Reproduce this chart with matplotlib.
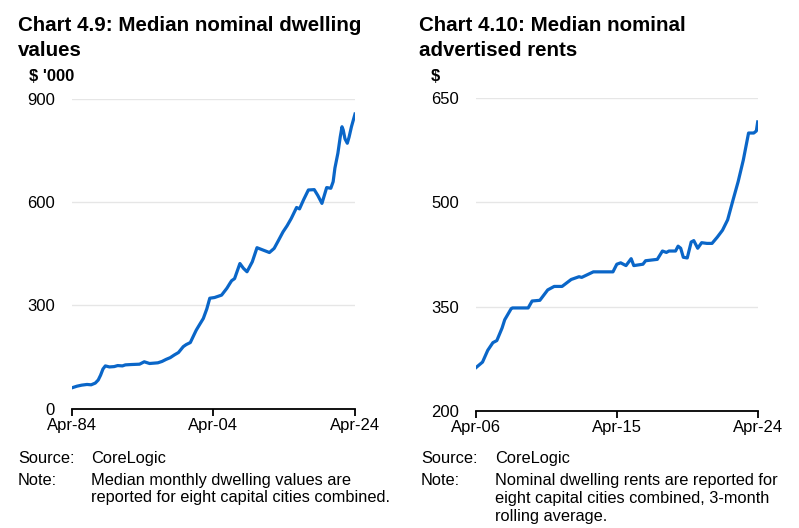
import matplotlib
matplotlib.use("Agg")
import matplotlib.pyplot as plt
import pandas as pd

plt.rcParams['font.family'] = ['Liberation Sans', 'DejaVu Sans']
plt.rcParams['font.size'] = 12

# Chart 4.9 - median nominal dwelling values ($'000)
dwell_dates = ["1984-04", "1985-01", "1985-09", "1986-06", "1987-01", "1987-08", "1988-01",
               "1988-05", "1988-09", "1989-01", "1989-08", "1990-04", "1990-10", "1991-06",
               "1991-11", "1992-09", "1993-11", "1994-07", "1995-04", "1996-06", "1997-01",
               "1997-08", "1998-03", "1998-10", "1999-05", "2000-01", "2000-06", "2001-01",
               "2001-06", "2001-11", "2002-05", "2002-11", "2003-05", "2003-10", "2004-06",
               "2005-06", "2006-03", "2006-08", "2006-11", "2007-04", "2008-01", "2008-07",
               "2009-01", "2009-10", "2010-06", "2011-03", "2012-03", "2012-11", "2013-06",
               "2014-02", "2014-09", "2015-04", "2016-01", "2016-06", "2017-01", "2017-09",
               "2018-07", "2019-01", "2019-08", "2020-04", "2020-11", "2021-03", "2021-06",
               "2021-11", "2022-03", "2022-06", "2022-08", "2022-11", "2023-03", "2023-06",
               "2023-10", "2024-04"]
dwell_values = [60, 65, 68, 70, 69, 74, 83,
                97, 115, 124, 121, 122, 125, 124,
                127, 128, 129, 136, 131, 133, 137,
                143, 148, 156, 163, 180, 186, 192,
                210, 228, 245, 262, 290, 321, 323,
                330, 350, 364, 372, 378, 422, 408,
                398, 427, 468, 462, 454, 466, 488,
                514, 532, 553, 585, 581, 608, 636,
                637, 620, 597, 643, 641, 660, 700,
                743, 790, 820, 811, 785, 772, 790,
                820, 857]

# Chart 4.10 - median nominal advertised rents ($)
rent_dates = ["2006-04", "2006-09", "2007-01", "2007-05", "2007-08", "2007-12", "2008-02",
              "2008-07", "2008-08", "2009-08", "2009-11", "2010-05", "2010-11", "2011-04",
              "2011-10", "2012-05", "2012-11", "2013-01", "2013-10", "2015-01", "2015-04",
              "2015-07", "2015-11", "2016-03", "2016-05", "2016-12", "2017-02", "2017-11",
              "2018-03", "2018-06", "2018-08", "2019-01", "2019-03", "2019-05", "2019-07",
              "2019-10", "2020-01", "2020-03", "2020-06", "2020-09", "2021-01", "2021-05",
              "2021-09", "2022-01", "2022-05", "2022-09", "2023-01", "2023-05", "2023-09",
              "2024-01", "2024-03", "2024-04"]
rent_values = [262, 270, 287, 298, 301, 319, 331,
               347, 348, 348, 358, 359, 374, 379,
               379, 389, 393, 392, 400, 400, 411,
               413, 409, 419, 409, 411, 416, 418,
               430, 428, 430, 430, 437, 434, 421,
               420, 443, 445, 434, 442, 441, 441,
               450, 460, 475, 503, 530, 561, 600,
               600, 603, 616]

line_col = "#0a66c8"
grid_col = "#e6e6e6"


def style_axes(ax, x0, x1, xticks, xlabels, y0, y1, yticks):
    ax.set_xlim(pd.Timestamp(x0), pd.Timestamp(x1))
    ax.set_ylim(y0, y1)
    ax.set_xticks([pd.Timestamp(t) for t in xticks])
    ax.set_xticklabels(xlabels)
    ax.set_yticks(yticks)
    for s in ["top", "right", "left"]:
        ax.spines[s].set_visible(False)
    ax.spines["bottom"].set_linewidth(1.3)
    ax.tick_params(axis="x", direction="out", length=5, width=1.3, pad=2, labelsize=12)
    ax.tick_params(axis="y", length=0, pad=12, labelsize=12)
    for t in yticks[1:]:
        ax.axhline(t, color=grid_col, lw=1, zorder=0)


fig = plt.figure(figsize=(7.99, 5.28), dpi=100)

ax1 = fig.add_axes([0.0897, 0.2263, 0.3546, 0.5857])
ax1.plot(pd.to_datetime(dwell_dates), dwell_values, color=line_col, lw=2.3, zorder=3)
style_axes(ax1, "1984-04-01", "2024-04-01", ["1984-04-01", "2004-04-01", "2024-04-01"],
           ["Apr-84", "Apr-04", "Apr-24"], 0, 900, [0, 300, 600, 900])

ax2 = fig.add_axes([0.5957, 0.2222, 0.3526, 0.5916])
ax2.plot(pd.to_datetime(rent_dates), rent_values, color=line_col, lw=2.3, zorder=3)
style_axes(ax2, "2006-04-01", "2024-04-01", ["2006-04-01", "2015-04-01", "2024-04-01"],
           ["Apr-06", "Apr-15", "Apr-24"], 200, 650, [200, 350, 500, 650])

H = 528.0


def ftext(x, y, s, **kw):
    fig.text(x / 799.0, 1 - y / H, s, va="baseline", **kw)


# titles
ftext(18, 31, "Chart 4.9: Median nominal dwelling", fontsize=14.8, fontweight="bold")
ftext(18, 56, "values", fontsize=14.8, fontweight="bold")
ftext(419, 31, "Chart 4.10: Median nominal", fontsize=14.8, fontweight="bold")
ftext(419, 56, "advertised rents", fontsize=14.8, fontweight="bold")
ftext(29, 81, "$ '000", fontsize=12, fontweight="bold")
ftext(431, 81, "$", fontsize=12, fontweight="bold")

# sources and notes
fs = 11.8
ftext(18, 463, "Source:", fontsize=fs)
ftext(91, 463, "CoreLogic", fontsize=fs)
ftext(18, 485, "Note:", fontsize=fs)
ftext(91, 485, "Median monthly dwelling values are", fontsize=fs)
ftext(91, 502, "reported for eight capital cities combined.", fontsize=fs)

ftext(421, 463, "Source:", fontsize=fs)
ftext(495, 463, "CoreLogic", fontsize=fs)
ftext(421, 485, "Note:", fontsize=fs)
ftext(495, 485, "Nominal dwelling rents are reported for", fontsize=fs)
ftext(495, 503, "eight capital cities combined, 3-month", fontsize=fs)
ftext(495, 521, "rolling average.", fontsize=fs)

fig.savefig("out.png", dpi=100)
